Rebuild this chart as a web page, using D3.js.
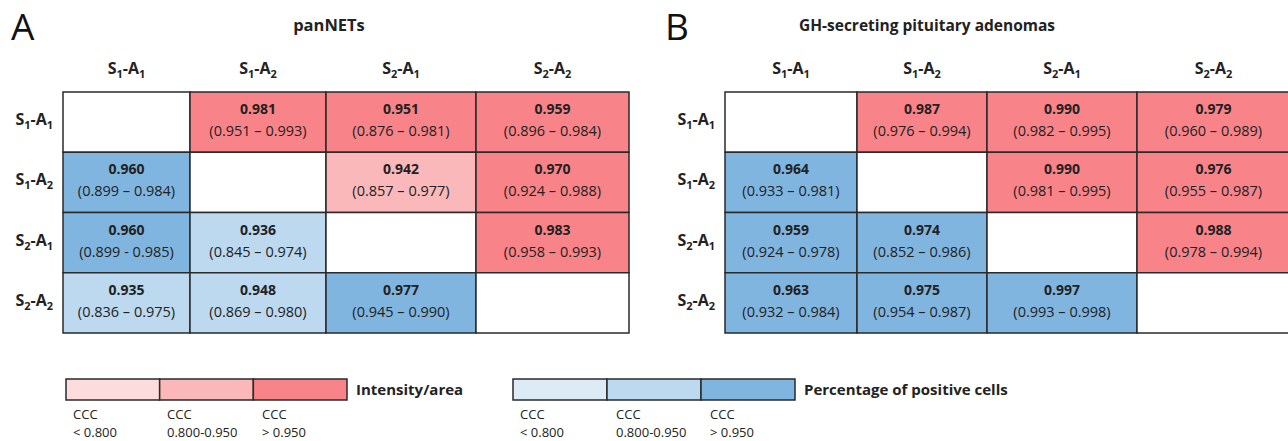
<!DOCTYPE html>
<html lang="en">
<head>
    <meta charset="UTF-8">
    <title>CCC heatmaps</title>
    <script src="https://d3js.org/d3.v7.min.js"></script>
    <style>
        body { margin: 0; background: #fff; }
        svg { display: block; font-family: "Open Sans", sans-serif; }
    </style>
</head>
<body>
<div id="chart"></div>
<script>
    // categories: [S index, A index]
    const categories = [[1, 1], [1, 2], [2, 1], [2, 2]];

    // panNETs: CCC value and CI text (null on the diagonal)
    const panValues = [
        [null, 0.981, 0.951, 0.959],
        [0.960, null, 0.942, 0.970],
        [0.960, 0.936, null, 0.983],
        [0.935, 0.948, 0.977, null]
    ];
    const panCI = [
        [null, "(0.951 – 0.993)", "(0.876 – 0.981)", "(0.896 – 0.984)"],
        ["(0.899 – 0.984)", null, "(0.857 – 0.977)", "(0.924 – 0.988)"],
        ["(0.899 - 0.985)", "(0.845 – 0.974)", null, "(0.958 – 0.993)"],
        ["(0.836 – 0.975)", "(0.869 – 0.980)", "(0.945 – 0.990)", null]
    ];

    // GH-secreting pituitary adenomas
    const ghValues = [
        [null, 0.987, 0.990, 0.979],
        [0.964, null, 0.990, 0.976],
        [0.959, 0.974, null, 0.988],
        [0.963, 0.975, 0.997, null]
    ];
    const ghCI = [
        [null, "(0.976 – 0.994)", "(0.982 – 0.995)", "(0.960 – 0.989)"],
        ["(0.933 – 0.981)", null, "(0.981 – 0.995)", "(0.955 – 0.987)"],
        ["(0.924 – 0.978)", "(0.852 – 0.986)", null, "(0.978 – 0.994)"],
        ["(0.932 – 0.984)", "(0.954 – 0.987)", "(0.993 – 0.998)", null]
    ];

    const thresholds = [0.800, 0.950];
    const legendLabels = [["CCC", "< 0.800"], ["CCC", "0.800-0.950"], ["CCC", "> 0.950"]];

    const redScale = d3.scaleThreshold().domain(thresholds).range(["#fddcdd", "#fbb8bb", "#f8848a"]);
    const blueScale = d3.scaleThreshold().domain(thresholds).range(["#ddebf7", "#bcd9f0", "#80b5e0"]);

    const svg = d3.select("#chart").append("svg")
        .attr("width", 1288).attr("height", 441);

    // label like S1-A2 with subscripts
    function subLabel(sel, c) {
        sel.append("tspan").text("S");
        sel.append("tspan").attr("dy", 4).attr("font-size", 11).text(c[0]);
        sel.append("tspan").attr("dy", -4).text("-A");
        sel.append("tspan").attr("dy", 4).attr("font-size", 11).text(c[1]);
    }

    function panel(opts) {
        const g = svg.append("g");
        const x = d3.scaleLinear().domain([0, 1, 2, 3, 4]).range(opts.xEdges);
        const y = d3.scaleBand().domain(d3.range(categories.length)).range([92, 333]);

        g.append("text").attr("x", opts.letterX).attr("y", 40)
            .attr("font-size", 37).attr("fill", "#111").text(opts.letter);
        g.append("text").attr("x", opts.titleX).attr("y", 31)
            .attr("text-anchor", "middle").attr("font-weight", "bold")
            .attr("font-size", opts.titleSize).attr("fill", "#222").text(opts.title);

        // column and row headers
        categories.forEach((c, i) => {
            g.append("text")
                .attr("x", (x(i) + x(i + 1)) / 2).attr("y", 74)
                .attr("text-anchor", "middle").attr("font-weight", "bold")
                .attr("font-size", 16).attr("fill", "#222")
                .call(subLabel, c);
            g.append("text")
                .attr("x", opts.rowLabelX).attr("y", y(i) + y.bandwidth() / 2 + 3)
                .attr("text-anchor", "end").attr("font-weight", "bold")
                .attr("font-size", 16).attr("fill", "#222")
                .call(subLabel, c);
        });

        const cells = [];
        opts.values.forEach((row, r) => row.forEach((v, c) => {
            cells.push({ r, c, v, ci: opts.ci[r][c] });
        }));

        g.selectAll("rect.cell").data(cells).enter().append("rect")
            .attr("class", "cell")
            .attr("x", d => x(d.c)).attr("y", d => y(d.r))
            .attr("width", d => x(d.c + 1) - x(d.c)).attr("height", y.bandwidth())
            .attr("fill", d => d.v == null ? "#fff" : (d.c > d.r ? redScale(d.v) : blueScale(d.v)))
            .attr("stroke", "#2a2a2a").attr("stroke-width", 1.5);

        const filled = cells.filter(d => d.v != null);
        g.selectAll("text.val").data(filled).enter().append("text")
            .attr("class", "val")
            .attr("x", d => (x(d.c) + x(d.c + 1)) / 2).attr("y", d => y(d.r) + 22)
            .attr("text-anchor", "middle").attr("font-weight", "bold")
            .attr("font-size", 14).attr("fill", "#222")
            .text(d => d3.format(".3f")(d.v));
        g.selectAll("text.ci").data(filled).enter().append("text")
            .attr("class", "ci")
            .attr("x", d => (x(d.c) + x(d.c + 1)) / 2).attr("y", d => y(d.r) + 44)
            .attr("text-anchor", "middle")
            .attr("font-size", 14.5).attr("fill", "#222")
            .text(d => d.ci);
    }

    panel({ letter: "A", letterX: 11, title: "panNETs", titleX: 329, titleSize: 16.5, rowLabelX: 53,
            xEdges: [63, 190, 326, 476, 629], values: panValues, ci: panCI });
    panel({ letter: "B", letterX: 665, title: "GH-secreting pituitary adenomas", titleX: 927, titleSize: 15.5, rowLabelX: 715,
            xEdges: [725, 857, 987, 1137, 1290], values: ghValues, ci: ghCI });

    // legends
    function legend(x0, x1, scale, label, labelXs) {
        const lx = d3.scaleLinear().domain([0, 3]).range([x0, x1]);
        const lg = svg.append("g");
        lg.selectAll("rect").data([0.7, 0.9, 0.97]).enter().append("rect")
            .attr("x", (d, i) => lx(i)).attr("y", 379)
            .attr("width", (d, i) => lx(i + 1) - lx(i)).attr("height", 21)
            .attr("fill", d => scale(d))
            .attr("stroke", "#2a2a2a").attr("stroke-width", 1.5);
        lg.append("text").attr("x", x1 + 9).attr("y", 395)
            .attr("font-weight", "bold").attr("font-size", 15).attr("fill", "#222")
            .text(label);
        legendLabels.forEach((l, i) => {
            const t = lg.append("text").attr("font-size", 13).attr("fill", "#222");
            t.append("tspan").attr("x", labelXs[i]).attr("y", 419).text(l[0]);
            t.append("tspan").attr("x", labelXs[i]).attr("y", 437).text(l[1]);
        });
    }
    legend(66, 347, redScale, "Intensity/area", [73, 167, 262]);
    legend(513, 795, blueScale, "Percentage of positive cells", [520, 616, 710]);
</script>
</body>
</html>
